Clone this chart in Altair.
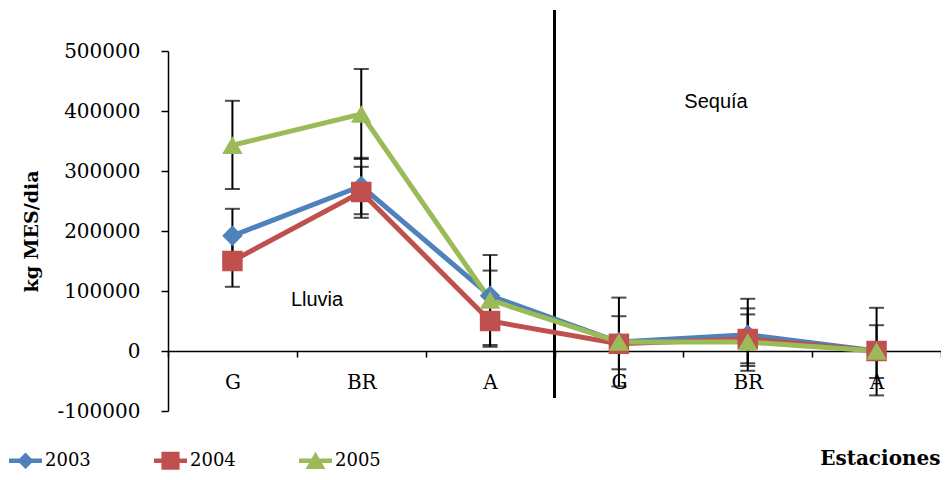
import altair as alt
import pandas as pd

# ---- data ----
keys = ["1G", "1BR", "1A", "2G", "2BR", "2A"]          # unique x positions (label = key[1:])
years = ["2003", "2004", "2005"]

v2003 = [192000, 275000, 92000, 15000, 27000, 0]
v2004 = [150000, 265000, 50000, 12000, 20000, 0]
v2005 = [343000, 395000, 85000, 15000, 15000, 0]

lo2003 = [147000, 228000, 50000, -30500, -33000, -45000]
hi2003 = [237000, 322000, 134000, 58000, 87000, 43000]
lo2004 = [107000, 222000, 7000, 2000, -20500, -8000]
hi2004 = [193000, 307000, 93000, 22000, 61000, 8000]
lo2005 = [270000, 320000, 10000, -59000, -25000, -74000]
hi2005 = [417000, 470000, 160000, 89000, 71000, 72000]

y_ticks = [-100000, 0, 100000, 200000, 300000, 400000, 500000]
colors = ["#4F81BD", "#C0504D", "#9BBB59"]
shapes = ["diamond", "square", "triangle-up"]
legend_paths = [
    "M-1,-0.14L1,-0.14L1,0.14L-1,0.14Z M0,-0.5L0.5,0L0,0.5L-0.5,0Z",
    "M-1,-0.14L1,-0.14L1,0.14L-1,0.14Z M-0.55,-0.55L0.55,-0.55L0.55,0.55L-0.55,0.55Z",
    "M-1,-0.14L1,-0.14L1,0.14L-1,0.14Z M0,-0.55L0.6,0.5L-0.6,0.5Z",
]

rows = []
for yr, vals, los, his in [("2003", v2003, lo2003, hi2003),
                           ("2004", v2004, lo2004, hi2004),
                           ("2005", v2005, lo2005, hi2005)]:
    for i, (k, v, lo, hi) in enumerate(zip(keys, vals, los, his)):
        rows.append({"year": yr, "serie": yr, "key": k, "idx": i,
                     "value": v, "low": lo, "high": hi})
df = pd.DataFrame(rows)

SERIF = "DejaVu Serif"
SANS = "Liberation Sans"
W, H = 773, 360

x_enc = alt.X("key:N", sort=keys,
              scale=alt.Scale(type="band", paddingInner=0, paddingOuter=0),
              axis=alt.Axis(title="Estaciones", labelExpr="slice(datum.label, 1)",
                            labelAngle=0, offset=-60, tickBand="extent", tickSize=6,
                            labelPadding=15, labelFont=SERIF, labelFontSize=20,
                            labelColor="black", domainColor="black", domainWidth=1.5,
                            tickColor="black", tickWidth=1.5, grid=False,
                            titleFont=SERIF, titleFontSize=20, titleFontWeight="bold",
                            titleColor="black", titleX=772, titleY=107,
                            titleAlign="right", titleBaseline="middle"))
y_scale = alt.Scale(domain=[-100000, 500000], nice=False, zero=False)
y_axis = alt.Axis(title="kg MES/dia", values=y_ticks, labelExpr="'' + datum.value",
                  tickSize=7, labelPadding=21, labelFont=SERIF, labelFontSize=20,
                  labelColor="black", domainColor="black", domainWidth=1.5,
                  tickColor="black", tickWidth=1.5, grid=False,
                  titleFont=SERIF, titleFontSize=19, titleFontWeight="bold",
                  titleColor="black", titleX=-137, titleY=180, titleBaseline="middle",
                  titleAlign="center")

base = alt.Chart(df)

divider = alt.Chart(df).mark_rule(color="black", strokeWidth=1.5, clip=False).encode(
    x=alt.value(W / 2), y=alt.value(-41), y2=alt.value(347))

err = base.mark_rule(color="black", strokeWidth=2).encode(
    x=x_enc, y=alt.Y("low:Q", scale=y_scale, axis=y_axis), y2="high:Q")
cap_lo = base.mark_tick(color="black", thickness=2, size=15).encode(
    x=x_enc, y=alt.Y("low:Q", scale=y_scale, axis=y_axis))
cap_hi = base.mark_tick(color="black", thickness=2, size=15).encode(
    x=x_enc, y=alt.Y("high:Q", scale=y_scale, axis=y_axis))

color_scale = alt.Scale(domain=years, range=colors)

lines = base.mark_line(strokeWidth=5).encode(
    x=x_enc, y=alt.Y("value:Q", scale=y_scale, axis=y_axis),
    color=alt.Color("year:N", scale=color_scale, legend=None),
    order=alt.Order("idx:Q"))

points = base.mark_point(filled=True, opacity=1, size=420).encode(
    x=x_enc, y=alt.Y("value:Q", scale=y_scale, axis=y_axis),
    color=alt.Color("year:N", scale=color_scale, legend=None),
    shape=alt.Shape("year:N", scale=alt.Scale(domain=years, range=shapes), legend=None))

leg = alt.Legend(orient="none", legendX=-159, legendY=393, direction="horizontal",
                 symbolSize=1089, symbolOpacity=1, labelFont=SERIF, labelFontSize=18,
                 labelColor="black", labelOffset=3, columnPadding=63, padding=0,
                 symbolStrokeWidth=0)

legend_layer = base.mark_point(filled=True, size=0).encode(
    x=x_enc, y=alt.Y("value:Q", scale=y_scale, axis=y_axis),
    color=alt.Color("serie:N", scale=alt.Scale(domain=years, range=colors), title=None,
                    legend=leg),
    shape=alt.Shape("serie:N", scale=alt.Scale(domain=years, range=legend_paths), title=None,
                    legend=leg))

lluvia = alt.Chart(pd.DataFrame({"t": ["Lluvia"]})).mark_text(
    font=SANS, fontSize=20, color="black", align="center", baseline="middle").encode(
    text="t:N", x=alt.value(149), y=alt.value(249))
sequia = alt.Chart(pd.DataFrame({"t": ["Sequía"]})).mark_text(
    font=SANS, fontSize=20, color="black", align="center", baseline="middle").encode(
    text="t:N", x=alt.value(548), y=alt.value(51))

chart = alt.layer(divider, err, cap_lo, cap_hi, lines, points, legend_layer, lluvia, sequia).resolve_scale(
    color="independent", shape="independent"
).properties(
    width=W, height=H,
    autosize=alt.AutoSizeParams(type="none"),
    padding={"left": 160, "top": 43, "right": 0, "bottom": 61},
    background="white",
).configure_view(stroke=None)

chart.save("out.html", embed_options={"renderer": "svg", "actions": False})
